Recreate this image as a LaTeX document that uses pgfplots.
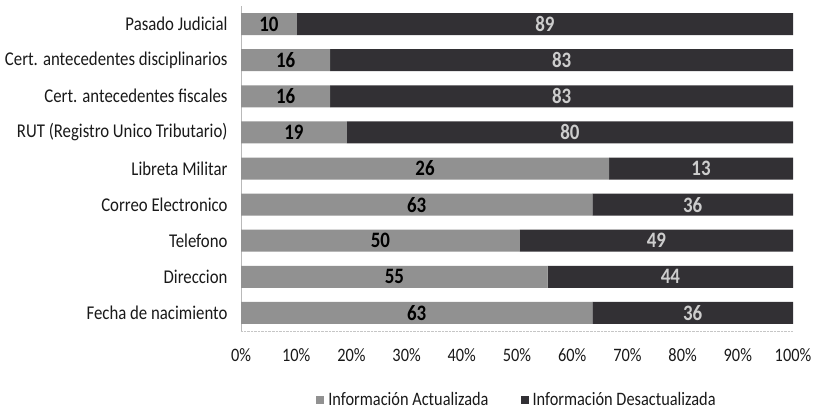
\documentclass[border=0pt]{standalone}
\usepackage{fontspec}
\setmainfont[FakeStretch=0.86]{Carlito}
\usepackage{pgfplots}
\usepackage{pgfplotstable}
\pgfplotsset{compat=1.18}
\definecolor{lightbar}{RGB}{145,145,145}
\definecolor{darkbar}{RGB}{50,48,52}
\definecolor{lightlab}{RGB}{205,205,205}
\definecolor{txt}{RGB}{25,25,25}

\pgfplotstableread{
y pa pb a b
8 10.10 89.90 10 89
7 16.16 83.84 16 83
6 16.16 83.84 16 83
5 19.19 80.81 19 80
4 66.67 33.33 26 13
3 63.64 36.36 63 36
2 50.51 49.49 50 49
1 55.56 44.44 55 44
0 63.64 36.36 63 36
}\data

\begin{document}
\begin{tikzpicture}
\path[use as bounding box] (0,0) rectangle (813bp,409bp);
\begin{axis}[
  at={(241bp,78bp)}, anchor=south west,
  scale only axis, width=552bp, height=325bp,
  xbar stacked, bar width=22bp,
  xmin=0, xmax=100, ymin=-0.5, ymax=8.5,
  axis lines*=left,
  x axis line style={draw=gray!45, densely dotted},
  y axis line style={draw=gray!55},
  major tick length=0pt,
  ytick={0,...,8},
  yticklabels={Fecha de nacimiento, Direccion, Telefono, Correo Electronico, Libreta Militar\hspace{7bp}, RUT (Registro Unico Tributario), Cert. antecedentes fiscales, Cert. antecedentes disciplinarios, Pasado Judicial},
  yticklabel style={font=\fontsize{19.5bp}{22bp}\selectfont, text=txt, xshift=-10bp},
  xtick={0,10,...,100},
  xticklabels={0\%,10\%,20\%,30\%,40\%,50\%,60\%,70\%,80\%,90\%,100\%},
  xticklabel style={font=\fontsize{19bp}{22bp}\selectfont, text=txt, yshift=-14bp},
  legend style={at={(0.5,-0.212)}, anchor=center, draw=none, fill=none,
    legend columns=2, font=\fontsize{19bp}{22bp}\selectfont, text=txt,
    /tikz/every odd column/.append style={column sep=2bp},
    /tikz/every even column/.append style={column sep=30bp}},
  legend image code/.code={\fill[#1] (0bp,-4bp) rectangle (8bp,4bp);},
  nodes near coords,
  point meta=explicit symbolic,
]
\addplot[fill=lightbar, draw=none,
  every node near coord/.append style={font=\fontsize{22bp}{24bp}\selectfont\bfseries, text=black, anchor=center}]
  table[x=pa, y=y, meta=a] {\data};
\addlegendentry{Información Actualizada}
\addplot[fill=darkbar, draw=none,
  every node near coord/.append style={font=\fontsize{22bp}{24bp}\selectfont\bfseries, text=lightlab, anchor=center}]
  table[x=pb, y=y, meta=b] {\data};
\addlegendentry{Información Desactualizada}
\end{axis}
\end{tikzpicture}
\end{document}
